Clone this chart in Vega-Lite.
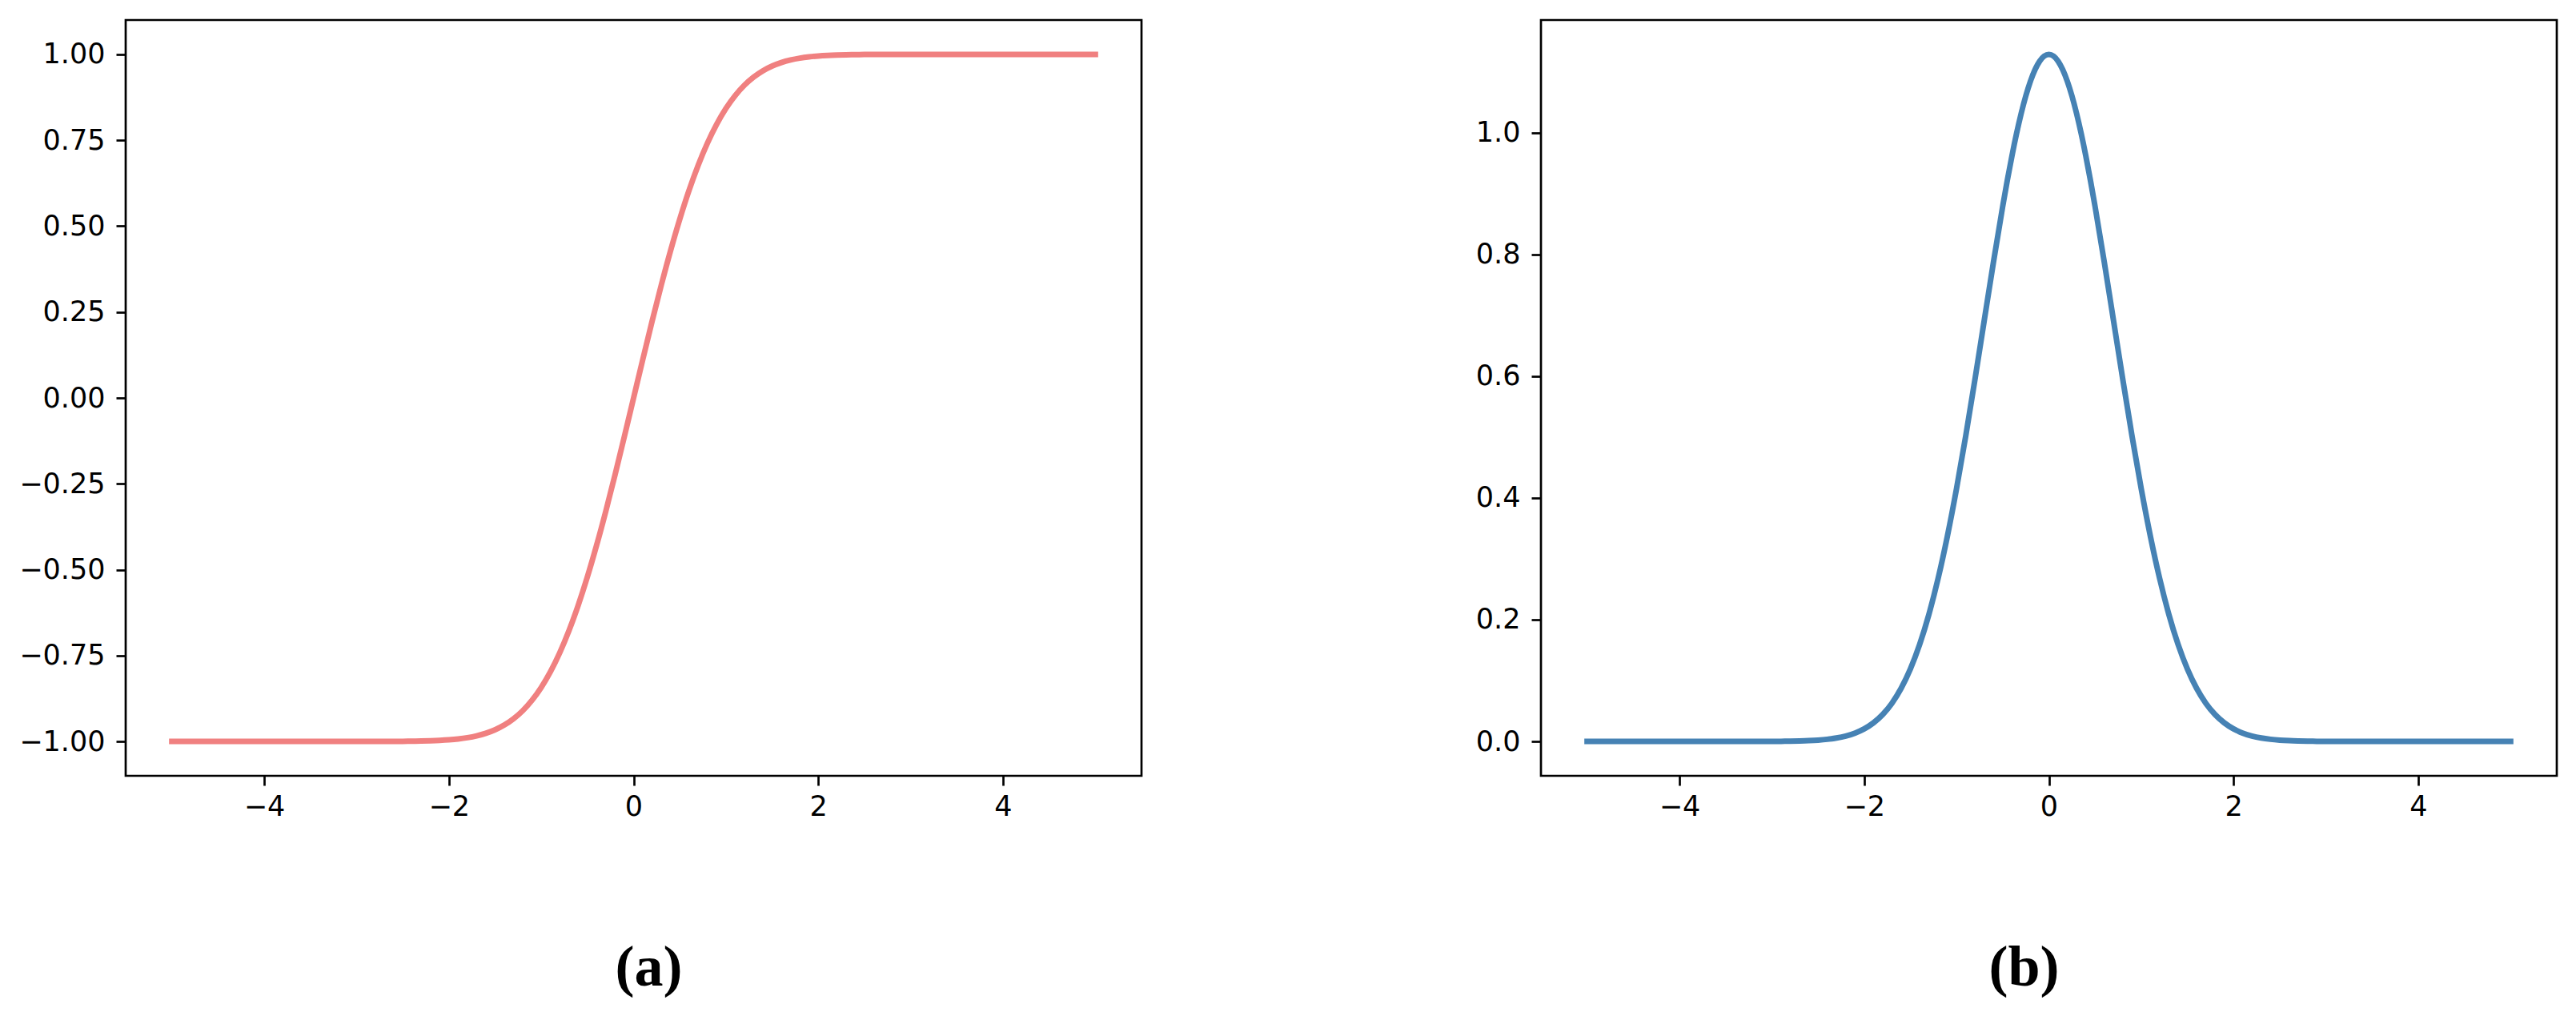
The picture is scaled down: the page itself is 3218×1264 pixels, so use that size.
{
  "$schema": "https://vega.github.io/schema/vega-lite/v6.json",
  "padding": {"left": 0, "top": 23, "right": 0, "bottom": 0},
  "background": "white",
  "spacing": 413,
  "config": {
    "view": {"stroke": "black", "strokeWidth": 2.7},
    "axis": {
      "domain": false,
      "grid": false,
      "tickColor": "black",
      "tickWidth": 2.7,
      "tickSize": 12,
      "labelFont": "DejaVu Sans",
      "labelFontSize": 35,
      "labelColor": "black",
      "titleColor": "black"
    }
  },
  "datasets": {
    "erf": [
      {"x": -5.0, "y": -1.0}, {"x": -4.5, "y": -1.0}, {"x": -4.0, "y": -1.0}, {"x": -3.5, "y": -0.9999993},
      {"x": -3.0, "y": -0.9999779}, {"x": -2.9, "y": -0.9999589}, {"x": -2.8, "y": -0.999925}, {"x": -2.7, "y": -0.9998657},
      {"x": -2.6, "y": -0.999764}, {"x": -2.5, "y": -0.999593}, {"x": -2.4, "y": -0.9993115}, {"x": -2.3, "y": -0.9988568},
      {"x": -2.2, "y": -0.9981372}, {"x": -2.1, "y": -0.9970205}, {"x": -2.0, "y": -0.9953223}, {"x": -1.9, "y": -0.9927904},
      {"x": -1.8, "y": -0.9890905}, {"x": -1.7, "y": -0.9837905}, {"x": -1.6, "y": -0.9763484}, {"x": -1.5, "y": -0.9661051},
      {"x": -1.4, "y": -0.9522851}, {"x": -1.3, "y": -0.9340079}, {"x": -1.2, "y": -0.910314}, {"x": -1.1, "y": -0.8802051},
      {"x": -1.0, "y": -0.8427008}, {"x": -0.9, "y": -0.7969082}, {"x": -0.8, "y": -0.742101}, {"x": -0.7, "y": -0.6778012},
      {"x": -0.6, "y": -0.6038561}, {"x": -0.5, "y": -0.5204999}, {"x": -0.4, "y": -0.4283924}, {"x": -0.3, "y": -0.3286268},
      {"x": -0.2, "y": -0.2227026}, {"x": -0.1, "y": -0.1124629}, {"x": 0.0, "y": 0.0},
      {"x": 0.1, "y": 0.1124629}, {"x": 0.2, "y": 0.2227026}, {"x": 0.3, "y": 0.3286268}, {"x": 0.4, "y": 0.4283924},
      {"x": 0.5, "y": 0.5204999}, {"x": 0.6, "y": 0.6038561}, {"x": 0.7, "y": 0.6778012}, {"x": 0.8, "y": 0.742101},
      {"x": 0.9, "y": 0.7969082}, {"x": 1.0, "y": 0.8427008}, {"x": 1.1, "y": 0.8802051}, {"x": 1.2, "y": 0.910314},
      {"x": 1.3, "y": 0.9340079}, {"x": 1.4, "y": 0.9522851}, {"x": 1.5, "y": 0.9661051}, {"x": 1.6, "y": 0.9763484},
      {"x": 1.7, "y": 0.9837905}, {"x": 1.8, "y": 0.9890905}, {"x": 1.9, "y": 0.9927904}, {"x": 2.0, "y": 0.9953223},
      {"x": 2.1, "y": 0.9970205}, {"x": 2.2, "y": 0.9981372}, {"x": 2.3, "y": 0.9988568}, {"x": 2.4, "y": 0.9993115},
      {"x": 2.5, "y": 0.999593}, {"x": 2.6, "y": 0.999764}, {"x": 2.7, "y": 0.9998657}, {"x": 2.8, "y": 0.999925},
      {"x": 2.9, "y": 0.9999589}, {"x": 3.0, "y": 0.9999779}, {"x": 3.5, "y": 0.9999993}, {"x": 4.0, "y": 1.0},
      {"x": 4.5, "y": 1.0}, {"x": 5.0, "y": 1.0}
    ],
    "gauss": [
      {"x": -5.0, "y": 0.0}, {"x": -4.5, "y": 0.0}, {"x": -4.0, "y": 0.0}, {"x": -3.5, "y": 0.0000055},
      {"x": -3.0, "y": 0.00014}, {"x": -2.9, "y": 0.00025}, {"x": -2.8, "y": 0.00044}, {"x": -2.7, "y": 0.00077},
      {"x": -2.6, "y": 0.00131}, {"x": -2.5, "y": 0.00218}, {"x": -2.4, "y": 0.00356}, {"x": -2.3, "y": 0.00569},
      {"x": -2.2, "y": 0.00892}, {"x": -2.1, "y": 0.01372}, {"x": -2.0, "y": 0.02067}, {"x": -1.9, "y": 0.03053},
      {"x": -1.8, "y": 0.04419}, {"x": -1.7, "y": 0.06271}, {"x": -1.6, "y": 0.08723}, {"x": -1.5, "y": 0.11893},
      {"x": -1.4, "y": 0.15894}, {"x": -1.3, "y": 0.20821}, {"x": -1.2, "y": 0.26735}, {"x": -1.1, "y": 0.33648},
      {"x": -1.0, "y": 0.41511}, {"x": -0.9, "y": 0.50197}, {"x": -0.8, "y": 0.59499}, {"x": -0.7, "y": 0.69127},
      {"x": -0.6, "y": 0.78724}, {"x": -0.5, "y": 0.87878}, {"x": -0.45, "y": 0.92153}, {"x": -0.4, "y": 0.96154},
      {"x": -0.35, "y": 0.99828}, {"x": -0.3, "y": 1.03126}, {"x": -0.25, "y": 1.06002}, {"x": -0.2, "y": 1.08413},
      {"x": -0.15, "y": 1.10327}, {"x": -0.1, "y": 1.11715}, {"x": -0.05, "y": 1.12556}, {"x": 0.0, "y": 1.12838},
      {"x": 0.05, "y": 1.12556}, {"x": 0.1, "y": 1.11715}, {"x": 0.15, "y": 1.10327}, {"x": 0.2, "y": 1.08413},
      {"x": 0.25, "y": 1.06002}, {"x": 0.3, "y": 1.03126}, {"x": 0.35, "y": 0.99828}, {"x": 0.4, "y": 0.96154},
      {"x": 0.45, "y": 0.92153}, {"x": 0.5, "y": 0.87878}, {"x": 0.6, "y": 0.78724}, {"x": 0.7, "y": 0.69127}, {"x": 0.8, "y": 0.59499},
      {"x": 0.9, "y": 0.50197}, {"x": 1.0, "y": 0.41511}, {"x": 1.1, "y": 0.33648}, {"x": 1.2, "y": 0.26735},
      {"x": 1.3, "y": 0.20821}, {"x": 1.4, "y": 0.15894}, {"x": 1.5, "y": 0.11893}, {"x": 1.6, "y": 0.08723},
      {"x": 1.7, "y": 0.06271}, {"x": 1.8, "y": 0.04419}, {"x": 1.9, "y": 0.03053}, {"x": 2.0, "y": 0.02067},
      {"x": 2.1, "y": 0.01372}, {"x": 2.2, "y": 0.00892}, {"x": 2.3, "y": 0.00569}, {"x": 2.4, "y": 0.00356},
      {"x": 2.5, "y": 0.00218}, {"x": 2.6, "y": 0.00131}, {"x": 2.7, "y": 0.00077}, {"x": 2.8, "y": 0.00044},
      {"x": 2.9, "y": 0.00025}, {"x": 3.0, "y": 0.00014}, {"x": 3.5, "y": 0.0000055}, {"x": 4.0, "y": 0.0},
      {"x": 4.5, "y": 0.0}, {"x": 5.0, "y": 0.0}
    ]
  },
  "hconcat": [
    {
      "width": 1269,
      "height": 944,
      "data": {"name": "erf"},
      "mark": {"type": "line", "color": "#F08080", "strokeWidth": 7, "strokeCap": "square", "interpolate": "monotone", "clip": true},
      "encoding": {
        "x": {
          "field": "x", "type": "quantitative",
          "scale": {"domain": [-5.5, 5.5], "nice": false, "zero": false},
          "axis": {
            "values": [-4, -2, 0, 2, 4], "format": "d", "labelPadding": 9,
            "title": "(a)", "titleFont": "Liberation Serif", "titleFontWeight": "bold", "titleFontSize": 72,
            "titleX": 653, "titleY": 261, "titleBaseline": "alphabetic", "titleAlign": "center"
          }
        },
        "y": {
          "field": "y", "type": "quantitative",
          "scale": {"domain": [-1.1, 1.1], "nice": false, "zero": false},
          "axis": {
            "values": [-1, -0.75, -0.5, -0.25, 0, 0.25, 0.5, 0.75, 1], "format": ".2f",
            "labelPadding": 14, "title": null, "minExtent": 155, "maxExtent": 155
          }
        }
      }
    },
    {
      "width": 1269,
      "height": 944,
      "data": {"name": "gauss"},
      "mark": {"type": "line", "color": "#4682B4", "strokeWidth": 7, "strokeCap": "square", "interpolate": "monotone", "clip": true},
      "encoding": {
        "x": {
          "field": "x", "type": "quantitative",
          "scale": {"domain": [-5.5, 5.5], "nice": false, "zero": false},
          "axis": {
            "values": [-4, -2, 0, 2, 4], "format": "d", "labelPadding": 9,
            "title": "(b)", "titleFont": "Liberation Serif", "titleFontWeight": "bold", "titleFontSize": 72,
            "titleX": 603, "titleY": 261, "titleBaseline": "alphabetic", "titleAlign": "center"
          }
        },
        "y": {
          "field": "y", "type": "quantitative",
          "scale": {"domain": [-0.0564, 1.1848], "nice": false, "zero": false},
          "axis": {
            "values": [0, 0.2, 0.4, 0.6, 0.8, 1.0], "format": ".1f",
            "labelPadding": 14, "title": null, "minExtent": 80, "maxExtent": 80
          }
        }
      }
    }
  ]
}
